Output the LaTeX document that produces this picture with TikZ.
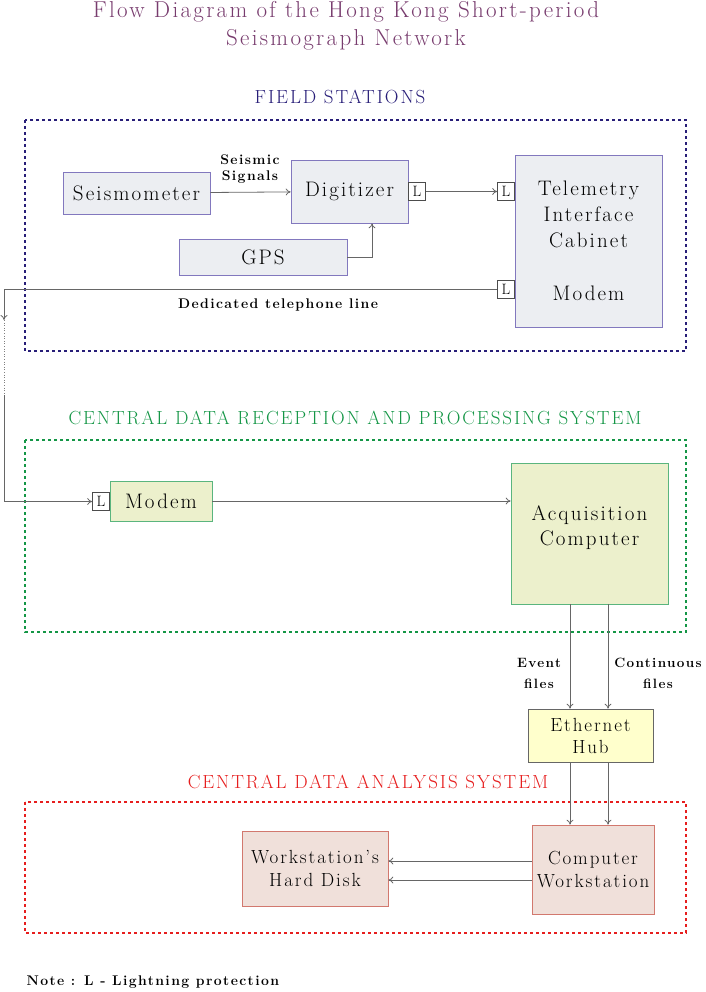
\documentclass[tikz,border=0pt]{standalone}
\usepackage{fontspec}
\setmainfont{Latin Modern Roman}[LetterSpace=10]
\usetikzlibrary{arrows.meta}
\definecolor{navy}{RGB}{40,30,120}
\definecolor{grn}{RGB}{20,150,70}
\definecolor{rd}{RGB}{230,30,30}
\definecolor{ttl}{RGB}{120,60,110}
\definecolor{gfill}{RGB}{236,240,204}
\definecolor{yfill}{RGB}{255,255,204}
\definecolor{rfill}{RGB}{240,224,218}
\definecolor{rdraw}{RGB}{210,120,110}
\definecolor{bfill}{RGB}{236,238,242}
\definecolor{bdraw}{RGB}{130,120,190}
\begin{document}
\begin{tikzpicture}[x=1pt,y=-1pt,
 box/.style={draw=#1,line width=0.7pt,inner sep=0pt,align=center,font=\fontsize{21}{25}\selectfont},
 lb/.style={draw=black!70,fill=white,line width=0.6pt,inner sep=0pt,minimum width=17pt,minimum height=18pt,font=\fontsize{15}{15}\selectfont},
 arr/.style={draw=black!60,line width=0.8pt,-{To[length=5pt,width=7pt]}},
 frame/.style={line width=2pt,dash pattern=on 3pt off 3pt},
 head/.style={font=\fontsize{19}{21}\selectfont},
 small/.style={font=\bfseries\fontsize{14}{16}\selectfont,align=center}]
\useasboundingbox (0,0) rectangle (705,992);
\node[font=\fontsize{23}{28}\selectfont,text=ttl,align=center] (title) at (346,26) {Flow Diagram of the Hong Kong Short-period\\Seismograph Network};
\node[head,text=navy] (h1) at (340,97) {FIELD STATIONS};
\draw[frame,navy] (25,120) rectangle (686,351);
\node[head,text=grn] (h2) at (355,418) {CENTRAL DATA RECEPTION AND PROCESSING SYSTEM};
\draw[frame,grn] (25,440) rectangle (686,632);
\node[head,text=rd] (h3) at (368,782) {CENTRAL DATA ANALYSIS SYSTEM};
\draw[frame,rd] (25,802) rectangle (686,933);
% field
\tikzset{fs/.style={box=bdraw,fill=bfill}}
\node[fs,minimum width=147pt,minimum height=42pt] (seis) at (136.5,193) {Seismometer};
\node[fs,minimum width=117pt,minimum height=63pt] (dig) at (349.5,191.5) {Digitizer};
\node[fs,minimum width=168pt,minimum height=36pt] (gps) at (263,257) {GPS};
\node[fs,minimum width=147pt,minimum height=172pt] (tel) at (588.5,241) {};
\node[font=\fontsize{21}{26}\selectfont,align=center] (teltext) at (588.5,214) {Telemetry\\Interface\\Cabinet};
\node[font=\fontsize{21}{25}\selectfont] (telmod) at (588.5,293) {Modem};
\node[lb] (l1) at (417,191.5) {L};
\node[lb] (l2) at (506,191.5) {L};
\node[lb] (l3) at (506,289.5) {L};
\draw[arr] (seis) -- (dig);
\node[small,anchor=south] (ss) at (250,187) {Seismic\\Signals};
\draw[arr] (gps.east) -- (372,257) -- (dig.south -| 372,0);
\draw[arr] (l1) -- (l2);
\coordinate (c1) at (4,289.5);
\coordinate (c2) at (4,320);
\coordinate (c3) at (4,395);
\coordinate (c4) at (4,501.5);
\draw[arr] (l3.west) -- (c1) -- (c2);
\node[small] (dtl) at (278,305) {Dedicated telephone line};
\draw[draw=black!50,line width=0.6pt,dotted] (c2) -- (c3);
% central
\node[box=grn!70,fill=gfill,minimum width=102pt,minimum height=40pt] (mod) at (161,501) {Modem};
\node[lb] (l4) at (101,501.5) {L};
\draw[arr] (c3) -- (c4) -- (l4.west);
\node[box=grn!70,fill=gfill,minimum width=157pt,minimum height=141pt] (acq) at (589.5,533.5) {};
\node[font=\fontsize{21}{25}\selectfont,align=center] (acqtext) at (589.5,528) {Acquisition\\Computer};
\draw[arr] (mod) -- (acq.west |- mod);
\node[box=black!60,fill=yfill,minimum width=125pt,minimum height=53pt,font=\fontsize{19}{22}\selectfont] (hub) at (590.5,735.5) {Ethernet\\Hub};
\draw[arr] (acq.south -| 570,0) -- (hub.north -| 570,0);
\draw[arr] (acq.south -| 608,0) -- (hub.north -| 608,0);
\node[small,font=\bfseries\fontsize{13.5}{21}\selectfont] (ev) at (539,673) {Event\\files};
\node[small,font=\bfseries\fontsize{13.5}{21}\selectfont] (cf) at (658,673) {Continuous\\files};
% analysis
\tikzset{an/.style={box=rdraw,fill=rfill,font=\fontsize{19}{23}\selectfont}}
\node[an,minimum width=122pt,minimum height=89pt] (cw) at (593,869.5) {Computer\\Workstation};
\node[an,minimum width=146pt,minimum height=75pt] (hd) at (315,868.5) {Workstation's\\Hard Disk};
\draw[arr] (hub.south -| 570,0) -- (cw.north -| 570,0);
\draw[arr] (hub.south -| 608,0) -- (cw.north -| 608,0);
\draw[arr] (cw.west |- 0,861) -- (hd.east |- 0,861);
\draw[arr] (cw.west |- 0,880) -- (hd.east |- 0,880);
\node[small,anchor=west] (note) at (23,982) {Note : L - Lightning protection};
\end{tikzpicture}
\end{document}
